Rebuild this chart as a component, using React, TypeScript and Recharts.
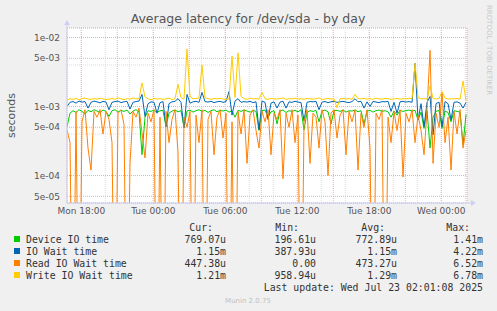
import { CartesianGrid, Line, LineChart, XAxis, YAxis } from "recharts";

// sample grid: 15 min steps, hours relative to Mon 18:00
const START_H = -1.19;
const STEP_H = 0.25;
const X_DOMAIN: [number, number] = [-1.19, 32.14];
const Y_DOMAIN: [number, number] = [4e-5, 0.01374];

const LABEL_HOURS = [0, 6, 12, 18, 24, 30];
const LABEL_TEXT = ["Mon 18:00", "Tue 00:00", "Tue 06:00", "Tue 12:00", "Tue 18:00", "Wed 00:00"];
const MINOR_HOURS = [-1, 0, 1, 2, 3, 4, 5, 6, 7, 8, 9, 10, 11, 12, 13, 14, 15, 16, 17, 18, 19, 20, 21, 22, 23, 24, 25, 26, 27, 28, 29, 30, 31, 32];
const MAJOR_HOURS = [0, 3, 6, 9, 12, 15, 18, 21, 24, 27, 30];
const Y_LABELS = [5e-5, 1e-4, 5e-4, 1e-3, 5e-3, 1e-2];
const Y_MINOR = [
  5e-5, 6e-5, 7e-5, 8e-5, 9e-5,
  1e-4, 2e-4, 3e-4, 4e-4, 5e-4, 6e-4, 7e-4, 8e-4, 9e-4,
  1e-3, 2e-3, 3e-3, 4e-3, 5e-3, 6e-3, 7e-3, 8e-3, 9e-3, 1e-2,
];

// values in microseconds
const deviceIO = [
  510, 800, 870, 820, 900, 850, 780, 880, 840, 900,
  860, 820, 890, 850, 720, 870, 900, 830, 880, 850,
  890, 780, 860, 900, 840, 200, 700, 870, 850, 890,
  820, 870, 880, 510, 800, 860, 890, 840, 870, 500,
  860, 890, 830, 870, 900, 850, 880, 820, 870, 900,
  840, 880, 860, 890, 830, 870, 700, 880, 850, 890,
  860, 830, 880, 850, 450, 870, 890, 700, 840, 870,
  560, 860, 890, 820, 870, 850, 880, 840, 900, 460,
  820, 870, 850, 880, 600, 860, 890, 840, 560, 870,
  880, 850, 890, 830, 870, 860, 890, 840, 870, 560,
  860, 880, 830, 870, 890, 850, 870, 840, 700, 860,
  750, 880, 850, 870, 890, 860, 880, 640, 830, 480,
  870, 250, 700, 850, 880, 480, 860, 820, 600, 870,
  850, 830, 280, 770,
];
const ioWait = [
  1000, 1150, 1180, 1120, 1200, 1160, 1180, 950, 1150, 1200,
  1170, 1130, 1190, 1160, 900, 1150, 1180, 1200, 1140, 1170,
  1190, 920, 1150, 1180, 1200, 1500, 720, 1100, 1170, 1150,
  800, 1140, 1180, 510, 1100, 1170, 1190, 1300, 1150, 490,
  1500, 1120, 1170, 1190, 1150, 1600, 1180, 1160, 1190, 1140,
  1170, 1190, 1150, 1180, 1650, 750, 1200, 1300, 1150, 1180,
  1160, 1190, 1140, 1170, 460, 1200, 1150, 650, 1120, 1170,
  950, 1160, 1190, 950, 1170, 1150, 1190, 1160, 1140, 620,
  1150, 1180, 1170, 1190, 900, 1160, 1180, 1140, 1170, 1190,
  1150, 1170, 1190, 1160, 1140, 1180, 1300, 1170, 1190, 950,
  1170, 1000, 1190, 1160, 1140, 1180, 1170, 1190, 850, 1150,
  800, 1170, 1190, 1160, 1180, 1150, 4220, 640, 1100, 510,
  1150, 1400, 390, 1100, 1160, 510, 1180, 1100, 640, 1150,
  1170, 1120, 950, 1150,
];
const readWait = [
  460, 300, 0, 850, 0, 600, 900, 250, 120, 850,
  700, 900, 400, 850, 650, 300, 0, 800, 900, 550,
  0, 150, 850, 700, 950, 420, 180, 800, 600, 900,
  0, 700, 0, 850, 300, 650, 900, 220, 0, 700,
  500, 850, 0, 750, 300, 900, 0, 650, 850, 200,
  700, 900, 350, 800, 0, 600, 0, 850, 400, 900,
  150, 750, 900, 450, 250, 850, 600, 900, 200, 800,
  650, 900, 90, 800, 500, 900, 300, 750, 0, 600,
  900, 150, 800, 700, 250, 900, 600, 100, 800, 900,
  350, 750, 900, 200, 850, 600, 900, 120, 800, 500,
  900, 250, 0, 800, 650, 900, 0, 700, 300, 850,
  450, 900, 95, 800, 600, 900, 300, 750, 450, 200,
  900, 6520, 150, 800, 500, 1600, 300, 700, 120, 850,
  400, 900, 250, 447,
];
const writeWait = [
  1250, 1290, 1270, 1310, 1260, 1300, 1330, 1280, 1270, 1300,
  1280, 1320, 1290, 1260, 1280, 1310, 1270, 1340, 1290, 1260,
  1300, 1280, 1330, 1290, 1300, 2200, 1380, 1290, 1260, 1310,
  1280, 1300, 1270, 1290, 1320, 1260, 1300, 2100, 1350, 1280,
  6780, 1400, 1290, 1310, 1330, 4000, 1350, 1300, 1270, 1310,
  1290, 1320, 1280, 1260, 1300, 5400, 1350, 6000, 1400, 1300,
  1270, 1320, 1290, 1300, 1280, 1600, 1300, 1270, 1310, 1290,
  1280, 1310, 1330, 1270, 1300, 1290, 1320, 1280, 1300, 1270,
  1310, 1290, 1280, 1300, 1330, 1260, 1290, 1310, 1280, 1300,
  960, 1290, 1310, 1280, 1300, 1270, 1500, 1300, 1290, 1310,
  1280, 1300, 1270, 1320, 1290, 1280, 1310, 1300, 1270, 1290,
  1310, 1280, 1300, 1290, 1320, 1300, 4200, 1350, 1290, 1300,
  1280, 2000, 1310, 1290, 1300, 1650, 1330, 1280, 1300, 1290,
  1310, 1280, 2350, 1210,
];

const SERIES = [
  { key: "device", name: "Device IO time", color: "#00cc00", values: deviceIO, cur: "769.07u", min: "196.61u", avg: "772.89u", max: "1.41m" },
  { key: "iowait", name: "IO Wait time", color: "#0066b3", values: ioWait, cur: "1.15m", min: "387.93u", avg: "1.15m", max: "4.22m" },
  { key: "read", name: "Read IO Wait time", color: "#ff8000", values: readWait, cur: "447.38u", min: "0.00", avg: "473.27u", max: "6.52m" },
  { key: "write", name: "Write IO Wait time", color: "#ffcc00", values: writeWait, cur: "1.21m", min: "958.94u", avg: "1.29m", max: "6.78m" },
];

// zero can't sit on a log axis; push it far below the floor so it clips at the bottom
const toSec = (us: number) => (us > 0 ? us * 1e-6 : 1e-7);

const data = deviceIO.map((_, i) => {
  const row: Record<string, number> = { h: START_H + STEP_H * i };
  SERIES.forEach((s) => {
    row[s.key] = toSec(s.values[i]);
  });
  return row;
});

const fmtExp = (v: number) => {
  const [m, e] = v.toExponential(0).split("e");
  const n = Number(e);
  return `${m}e${n < 0 ? "-" : "+"}${String(Math.abs(n)).padStart(2, "0")}`;
};

const AXIS = "#ccd0f4";
const TEXT = "#555";
const tickFont = { fontFamily: "DejaVu Sans", fontSize: 9, fill: TEXT };
const MONO = "DejaVu Sans Mono";

export default function App() {
  return (
    <div
      style={{
        position: "absolute",
        left: 0,
        top: 0,
        width: 497,
        height: 311,
        background: "#f0f0f0",
        overflow: "hidden",
      }}
    >
      <LineChart
        width={497}
        height={311}
        data={data}
        margin={{ top: 28, right: 30, bottom: 88, left: 0 }}
      >
        <CartesianGrid
          xAxisId="minor"
          yAxisId="minor"
          stroke="#dcdcdc"
          strokeDasharray="1 1"
          fill="#ffffff"
          fillOpacity={1}
        />
        <CartesianGrid
          xAxisId="major"
          yAxisId="v"
          stroke="#e8b0b0"
          strokeDasharray="1 1"
        />
        <XAxis
          xAxisId="t"
          type="number"
          dataKey="h"
          domain={X_DOMAIN}
          allowDataOverflow
          ticks={LABEL_HOURS}
          tickFormatter={(v) => LABEL_TEXT[LABEL_HOURS.indexOf(v)] ?? ""}
          tick={tickFont}
          tickLine={false}
          tickSize={4}
          tickMargin={1}
          axisLine={{ stroke: AXIS }}
          height={20}
          interval={0}
        />
        <XAxis xAxisId="minor" type="number" dataKey="h" domain={X_DOMAIN} allowDataOverflow ticks={MINOR_HOURS} height={0} hide />
        <XAxis xAxisId="major" type="number" dataKey="h" domain={X_DOMAIN} allowDataOverflow ticks={MAJOR_HOURS} height={0} hide />
        <YAxis
          yAxisId="v"
          scale="log"
          domain={Y_DOMAIN}
          allowDataOverflow
          ticks={Y_LABELS}
          tickFormatter={fmtExp}
          tick={tickFont}
          tickLine={false}
          tickSize={5}
          tickMargin={2}
          axisLine={{ stroke: AXIS }}
          width={67}
          interval={0}
        />
        <YAxis yAxisId="minor" scale="log" domain={Y_DOMAIN} allowDataOverflow ticks={Y_MINOR} width={0} hide />
        {SERIES.map((s) => (
          <Line
            key={s.key}
            xAxisId="t"
            yAxisId="v"
            type="linear"
            dataKey={s.key}
            stroke={s.color}
            strokeWidth={1}
            dot={false}
            isAnimationActive={false}
          />
        ))}
      </LineChart>

      <svg
        width={497}
        height={311}
        style={{ position: "absolute", left: 0, top: 0, pointerEvents: "none" }}
      >
        <text x={248} y={23} textAnchor="middle" fontFamily="DejaVu Sans" fontSize={12.5} fill={TEXT}>
          Average latency for /dev/sda - by day
        </text>
        <text
          transform="translate(15,115.5) rotate(-90)"
          textAnchor="middle"
          fontFamily="DejaVu Sans"
          fontSize={11}
          fill={TEXT}
        >
          seconds
        </text>
        <text
          transform="translate(487,5) rotate(90)"
          fontFamily="DejaVu Sans"
          fontSize={7}
          fill="#c8c8c8"
        >
          RRDTOOL / TOBI OETIKER
        </text>
        {/* axis arrows */}
        <line x1={467} y1={203} x2={474} y2={203} stroke={AXIS} />
        <polygon points="471,200 476,203 471,206" fill={AXIS} />
        <line x1={67} y1={28} x2={67} y2={22} stroke={AXIS} />
        <polygon points="64,25 67,20 70,25" fill={AXIS} />

        <g fontFamily={MONO} fontSize={9.85} fill="#333">
          <text x={213} y={231} textAnchor="end">Cur:</text>
          <text x={299} y={231} textAnchor="end">Min:</text>
          <text x={385} y={231} textAnchor="end">Avg:</text>
          <text x={470} y={231} textAnchor="end">Max:</text>
          {SERIES.map((s, i) => {
            const y = 243 + i * 12;
            return (
              <g key={s.key}>
                <rect x={14} y={y - 7} width={6} height={6} fill={s.color} />
                <text x={26} y={y}>{s.name}</text>
                <text x={226} y={y} textAnchor="end">{s.cur}</text>
                <text x={316} y={y} textAnchor="end">{s.min}</text>
                <text x={397} y={y} textAnchor="end">{s.avg}</text>
                <text x={483} y={y} textAnchor="end">{s.max}</text>
              </g>
            );
          })}
          <text x={483} y={291} textAnchor="end">Last update: Wed Jul 23 02:01:08 2025</text>
        </g>
        <text x={248} y={303} textAnchor="middle" fontFamily="DejaVu Sans" fontSize={7} fill="#c0c0c0">
          Munin 2.0.75
        </text>
      </svg>
    </div>
  );
}
